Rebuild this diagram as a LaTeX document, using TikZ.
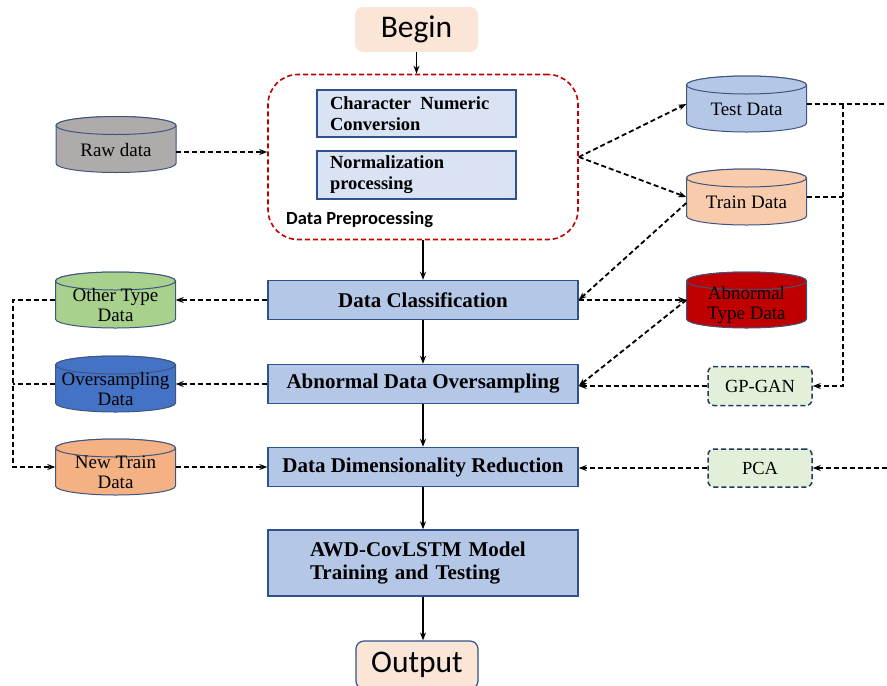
\documentclass[tikz,border=0pt]{standalone}
\usepackage{fontspec}
\setmainfont{Liberation Serif}
\newfontfamily\calib{Carlito}
\usetikzlibrary{arrows.meta}
\definecolor{procfill}{HTML}{B4C7E7}
\definecolor{subfill}{HTML}{DAE3F3}
\definecolor{boxborder}{HTML}{2F528F}
\definecolor{cylborder}{HTML}{3E5580}
\definecolor{prepred}{HTML}{C00000}
\definecolor{peach}{HTML}{FBE5D6}
\definecolor{toolfill}{HTML}{E2F0D9}
\definecolor{toolborder}{HTML}{1F3864}
\definecolor{rawc}{HTML}{AFABAB}
\definecolor{testc}{HTML}{B4C7E7}
\definecolor{trainc}{HTML}{F8CBAD}
\definecolor{abnc}{HTML}{C00000}
\definecolor{otherc}{HTML}{A9D18E}
\definecolor{overc}{HTML}{4472C4}
\definecolor{newc}{HTML}{F4B183}
\newcommand\dbcyl[5]{%
  \path[fill=#4, draw=cylborder, line width=1pt]
    ({#2-60},{#3-19}) -- ({#2-60},{#3+19})
    arc[start angle=180, end angle=0, x radius=60, y radius=9]
    -- ({#2+60},{#3-19})
    arc[start angle=0, end angle=-180, x radius=60, y radius=9] -- cycle;
  \draw[fill=#4, draw=cylborder, line width=1pt] ({#2},{#3-19}) ellipse [x radius=60, y radius=9];
  \node[cylnode] (#1) at (#2,#3) {};
  \node[cyltext] (#1-t) at (#2,{#3+5}) {#5};
}
\begin{document}
\begin{tikzpicture}[x=1pt,y=-1pt,
  proc/.style={draw=boxborder, line width=1.4pt, fill=procfill, minimum width=310, minimum height=39, inner sep=0pt, font=\fontsize{21}{23}\selectfont\bfseries},
  sub/.style={draw=boxborder, line width=1.3pt, fill=subfill, minimum width=199, minimum height=47, inner xsep=13pt, inner ysep=0pt, text width=173pt, align=left, font=\fontsize{18.5}{21}\selectfont\bfseries},
  tool/.style={draw=toolborder, dashed, dash pattern=on 5pt off 3pt, line width=1.5pt, fill=toolfill, rounded corners=6pt, minimum width=104, minimum height=39, inner sep=0pt, font=\fontsize{18.5}{20}\selectfont},
  term/.style={fill=peach, rounded corners=8pt, minimum width=123, minimum height=45, inner sep=0pt, font=\calib\fontsize{31.5}{33}\selectfont},
  cylnode/.style={minimum width=120, minimum height=56, inner sep=0pt},
  cyltext/.style={align=center, inner sep=0pt, font=\fontsize{19}{20}\selectfont},
  flow/.style={line width=1.6pt, -{Stealth[length=8pt,width=6pt]}},
  dline/.style={line width=1.8pt, dash pattern=on 5pt off 3pt},
  darrow/.style={dline, -{Stealth[length=8pt,width=6pt]}}
]
\useasboundingbox (0,0) rectangle (887,686);

% terminals
\node[term] (begin) at (416.5,29.5) {Begin};
\node[term, draw=boxborder, line width=1.2pt, minimum width=122, minimum height=48] (output) at (417,665) {Output};

% preprocessing container
\node[draw=prepred, dashed, dash pattern=on 5pt off 3pt, line width=1.6pt, rounded corners=30pt, minimum width=310, minimum height=165, inner sep=0pt] (prep) at (423,157) {};
\node[sub] (cnc) at (416.5,113.5) {Character\enspace Numeric\\Conversion};
\node[sub, minimum height=48] (norm) at (416.5,175) {Normalization\\processing};
\node[anchor=west, inner sep=0pt, font=\calib\fontsize{18.5}{20}\selectfont\bfseries] (preplbl) at (286,220) {Data Preprocessing};

% main process boxes
\node[proc] (dc) at (423,300) {Data Classification};
\node[proc] (ado) at (423,384) {Abnormal Data Oversampling};
\node[proc] (ddr) at (423,467) {Data Dimensionality Reduction};
\node[proc, minimum height=66, text width=226pt, align=left] (awd) at (423,563) {AWD-CovLSTM Model\\Training and Testing};

% tools
\node[tool] (gp) at (760,386) {GP-GAN};
\node[tool, minimum height=38] (pca) at (760,468) {PCA};

% cylinders
\dbcyl{raw}{116}{144.5}{rawc}{Raw data}
\dbcyl{test}{746.5}{104}{testc}{Test Data}
\dbcyl{train}{746.5}{197}{trainc}{Train Data}
\dbcyl{abn}{746.5}{300}{abnc}{Abnormal\\Type Data}
\dbcyl{other}{115.5}{300}{otherc}{Other Type\\Data}
\dbcyl{over}{115.5}{384}{overc}{Oversampling\\Data}
\dbcyl{new}{115.5}{467}{newc}{New Train\\Data}

% helper coordinates
\coordinate (rx) at (887,0);
\coordinate (bx) at (843,0);
\coordinate (lx) at (13,0);
\coordinate (rp) at (887,468);

% main flow
\draw[flow] (begin.south) -- (begin.south |- prep.north);
\draw[flow] (prep.south) -- (dc.north);
\draw[flow] (dc.south) -- (ado.north);
\draw[flow] (ado.south) -- (ddr.north);
\draw[flow] (ddr.south) -- (awd.north);
\draw[flow] (awd.south) -- (awd.south |- output.north);

% dashed connectors
\draw[darrow] ([yshift=-7.5pt]raw.east) -- ([yshift=-7.5pt]raw.east -| prep.west);
\draw[darrow] (prep.east) -- (test.west);
\draw[darrow] (prep.east) -- (train.west);
\draw[darrow] ([yshift=-6pt]train.west) -- (dc.east);
\draw[darrow] (dc.east) -- (abn.west);
\draw[darrow] (abn.west) -- ([yshift=-2pt]ado.east);
\draw[darrow] (gp.west) -- (gp.west -| ado.east);
\draw[dline] (test.east) -- (test.east -| rx);
\draw[dline] (train.east) -- (train.east -| bx);
\draw[darrow] (test.east -| bx) -- (gp.east -| bx) -- (gp.east);
\draw[darrow] (rp) -- (pca.east);
\draw[darrow] (pca.west) -- (pca.west -| ddr.east);
\draw[darrow] (dc.west) -- (other.east);
\draw[darrow] (ado.west) -- (over.east);
\draw[darrow] (new.east) -- (ddr.west);
\draw[darrow] (other.west) -- (other.west -| lx) -- (new.west -| lx) -- (new.west);
\draw[dline] (over.west) -- (over.west -| lx);
\end{tikzpicture}
\end{document}
